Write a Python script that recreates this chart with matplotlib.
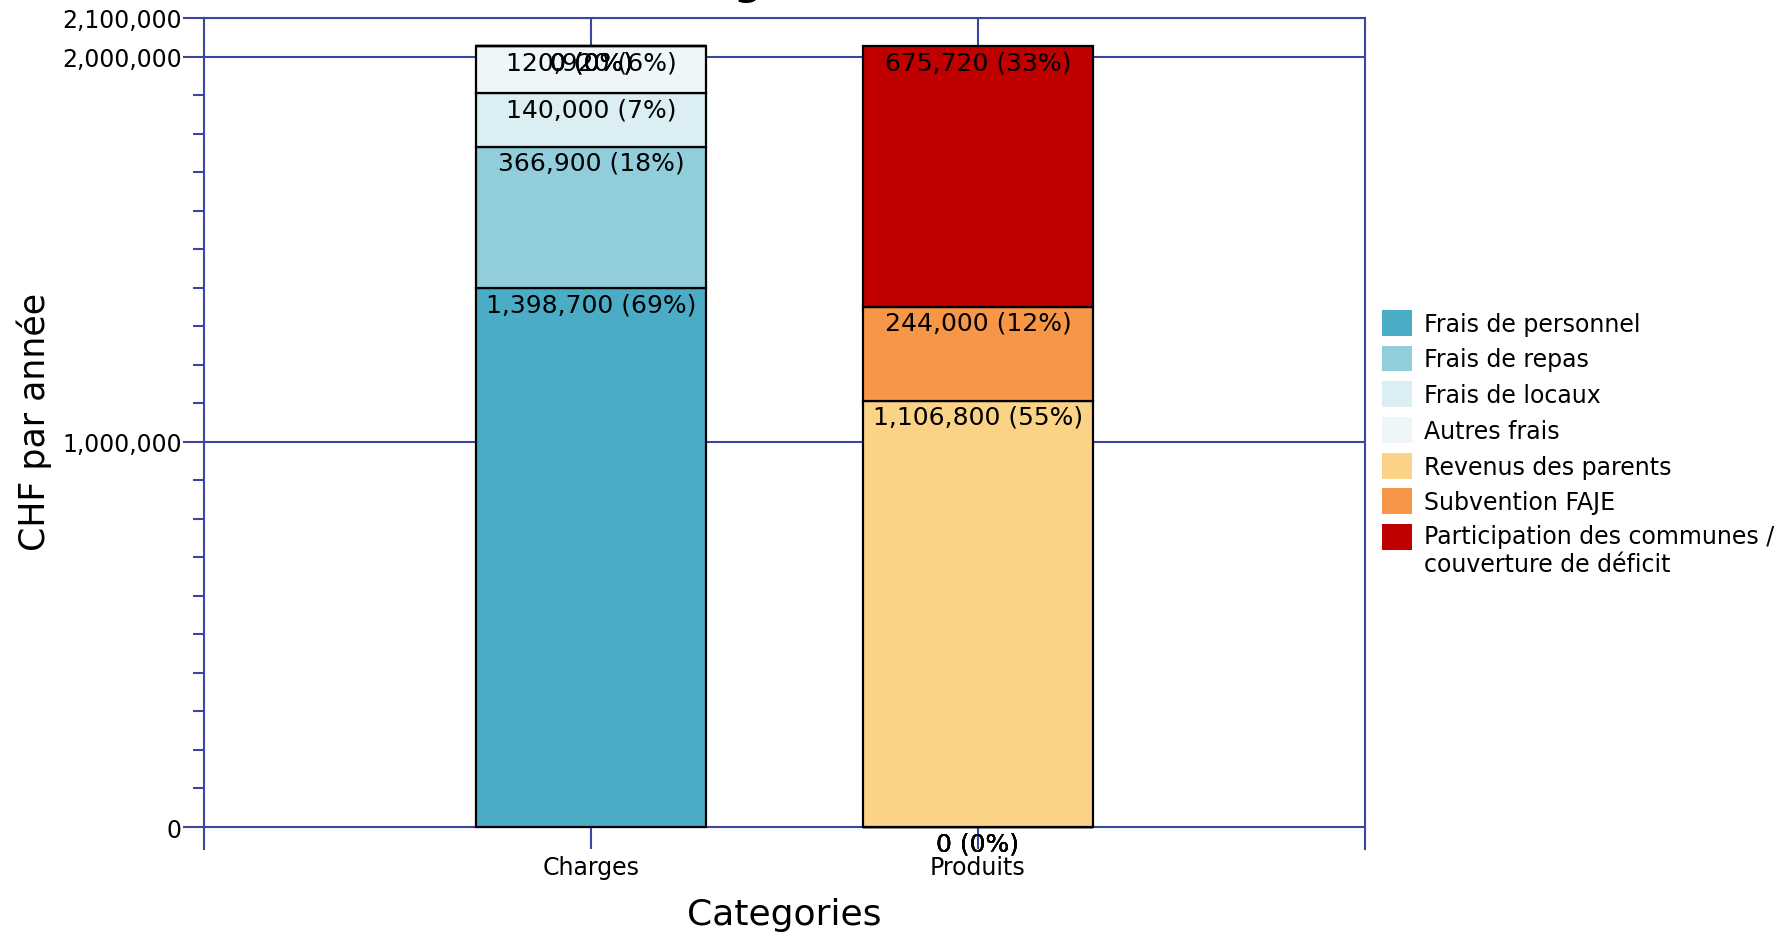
import matplotlib.pyplot as plt
from matplotlib.patches import Patch, Rectangle
from matplotlib.legend_handler import HandlerPatch
from matplotlib.ticker import FixedLocator, FuncFormatter

categories = ["Charges", "Produits"]

series_names = [
    "Frais de personnel",
    "Frais de repas",
    "Frais de locaux",
    "Autres frais",
    "Revenus des parents",
    "Subvention FAJE",
    "Participation des communes /\ncouverture de déficit",
]
frais_personnel = [1398700, 0]
frais_repas = [366900, 0]
frais_locaux = [140000, 0]
autres_frais = [120920, 0]
revenus_parents = [0, 1106800]
subvention_faje = [0, 244000]
participation_communes = [0, 675720]

series_values = [frais_personnel, frais_repas, frais_locaux, autres_frais,
                 revenus_parents, subvention_faje, participation_communes]
couleurs = ["#4BACC6", "#92CDDC", "#DAEEF3", "#EEF6FA",
            "#FAD386", "#F79646", "#C00000"]

bleu = "#3C46A0"
plt.rcParams['font.family'] = ['DejaVu Sans']

fig = plt.figure(figsize=(17.89, 9.37), dpi=100)
ax = fig.add_axes([204 / 1789, 1 - 850 / 937, 1161 / 1789, 831 / 937])

x = list(range(len(categories)))
totaux = [sum(v[i] for v in series_values) for i in x]
bas = [0] * len(categories)
for nom, vals, c in zip(series_names, series_values, couleurs):
    ax.bar(x, vals, width=0.595, bottom=bas, color=c, edgecolor="black",
           linewidth=1.6, zorder=3)
    for i in x:
        haut = bas[i] + vals[i]
        pct = round(100 * vals[i] / totaux[i])
        ax.annotate(f"{vals[i]:,} ({pct}%)", (i, haut), xytext=(0, -3),
                    textcoords="offset points", ha="center", va="top",
                    fontsize=18, zorder=5)
    bas = [b + v for b, v in zip(bas, vals)]

ax.set_xlim(-1, 2)
ax.set_ylim(-57100, 2100000)
ax.set_xticks(x)
ax.set_xticklabels(categories, fontsize=17)
ax.tick_params(axis="x", length=0, pad=4)

ax.yaxis.set_major_locator(FixedLocator([0, 1000000, 2000000, 2100000]))
ax.yaxis.set_minor_locator(FixedLocator([k * 100000 for k in range(1, 21) if k not in (10, 20)]))
ax.yaxis.set_major_formatter(FuncFormatter(lambda v, p: f"{int(v):,}"))
ax.tick_params(axis="y", which="major", length=15, width=1.5, color=bleu,
               labelsize=17, pad=1)
ax.tick_params(axis="y", which="minor", length=8, width=1.5, color=bleu)

ax.grid(True, which="major", color=bleu, linewidth=1.5)
ax.set_axisbelow(True)
ax.spines["bottom"].set_visible(False)
for s in ["left", "right", "top"]:
    ax.spines[s].set_color(bleu)
    ax.spines[s].set_linewidth(1.5)

fig.text(784 / 1789, 1 - 915 / 937, "Categories", ha="center", va="center",
         fontsize=26)
fig.text(34 / 1789, 1 - 422 / 937, "CHF par année", ha="center", va="center",
         rotation=90, fontsize=25)
fig.text(728 / 1789, 1 + 5 / 937, "Budget", ha="center", va="baseline",
         fontsize=28, fontweight="bold")


# carre de la derniere entree aligne sur la premiere ligne du texte
def carre_haut(legend, orig_handle, xdescent, ydescent, width, height, fontsize):
    return Rectangle((-xdescent, -ydescent + 0.62 * fontsize), width, height)


handles = [Patch(facecolor=c, edgecolor="none") for c in couleurs]
ax.legend(handles, series_names, loc="upper left",
          bbox_to_anchor=(1382 / 1789, 1 - 311 / 937),
          bbox_transform=fig.transFigure, frameon=False, fontsize=17,
          handlelength=1.25, handleheight=1.3, handletextpad=0.55,
          labelspacing=0.42, borderpad=0, borderaxespad=0,
          handler_map={handles[-1]: HandlerPatch(patch_func=carre_haut)})

fig.savefig("out.png", dpi=100)
